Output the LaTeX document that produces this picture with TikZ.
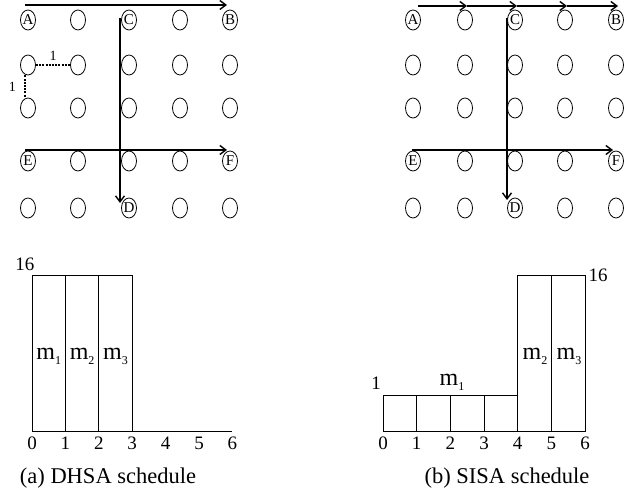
\documentclass[tikz,border=0pt]{standalone}
\usepackage{fontspec}
\setmainfont{Liberation Serif}
\usetikzlibrary{arrows.meta,shapes.geometric}
\newcommand\msub[1]{m\raisebox{-0.45ex}{\fontsize{12}{12}\selectfont#1}}
\begin{document}
\begin{tikzpicture}[x=1pt,y=-1pt,
  cell/.style={draw,ellipse,line width=0.8pt,minimum width=15pt,minimum height=20pt,inner sep=0pt},
  letter/.style={inner sep=0pt,font=\fontsize{15}{15}\selectfont},
  route/.style={line width=2.8pt,-{Straight Barb[length=6pt,width=9pt,line width=1.4pt]}},
  unitlink/.style={line width=2.2pt,dash pattern=on 2pt off 1.2pt},
  small/.style={inner sep=0pt,font=\fontsize{14}{14}\selectfont},
  bar/.style={draw,line width=0.8pt},
  tick/.style={inner sep=0pt,font=\fontsize{19}{19}\selectfont},
  mlab/.style={inner sep=0pt,font=\fontsize{24}{24}\selectfont},
  caption/.style={inner sep=0pt,font=\fontsize{22.5}{25}\selectfont}]
\useasboundingbox (0,0) rectangle (632,502);

% ---- two 5x5 grids of processors ----
\foreach \r/\y in {1/20,2/65,3/108,4/161,5/208}{
  \foreach \c/\x in {1/28,2/78,3/129,4/180,5/230}
    \node[cell] (L\r\c) at (\x,\y) {};
  \foreach \c/\x in {1/413,2/465,3/515,4/565,5/616}
    \node[cell] (R\r\c) at (\x,\y) {};
}

% corner letters, left grid
\node[letter] (A) at (L11) {A};
\node[letter] (C) at (L13) {C};
\node[letter] (B) at (L15) {B};
\node[letter] (E) at (L41) {E};
\node[letter] (F) at (L45) {F};
\node[letter] (D) at (L53) {D};
% corner letters, right grid
\node[letter] (A2) at (R11) {A};
\node[letter] (C2) at (R13) {C};
\node[letter] (B2) at (R15) {B};
\node[letter] (E2) at (R41) {E};
\node[letter] (F2) at (R45) {F};
\node[letter] (D2) at (R53) {D};

% left grid: direct routes
\draw[route] ([xshift=-3pt,yshift=15pt]A.center) -- ([xshift=-3pt,yshift=15pt]B.center);
\draw[route] ([xshift=-9pt,yshift=2pt]C.center) -- ([xshift=-9pt,yshift=5pt]D.center);
\draw[route] ([xshift=-3pt,yshift=11pt]E.center) -- ([xshift=-3pt,yshift=11pt]F.center);
% unit-distance links
\draw[unitlink] (L21.east) -- (L22.west) node[small,midway,above=3pt] {1};
\draw[unitlink] ([xshift=-3pt]L21.south) -- ([xshift=-3pt]L31.north) node[small,midway,left=8pt] {1};

% right grid: hop-by-hop routes
\draw[route] ([xshift=5pt,yshift=14pt]A2.center) -- ([xshift=2pt,yshift=14pt]R12.center);
\draw[route] ([xshift=2pt,yshift=14pt]R12.center) -- ([xshift=2pt,yshift=14pt]C2.center);
\draw[route] ([xshift=2pt,yshift=14pt]C2.center) -- ([xshift=2pt,yshift=14pt]R14.center);
\draw[route] ([xshift=2pt,yshift=14pt]R14.center) -- ([xshift=2pt,yshift=14pt]B2.center);
\draw[route] ([xshift=-8pt,yshift=2pt]C2.center) -- ([xshift=-8pt,yshift=8pt]D2.center);
\draw[route] ([xshift=-1pt,yshift=11pt]E2.center) -- ([xshift=-3pt,yshift=11pt]F2.center);

% ---- (a) DHSA schedule ----
\begin{scope}[shift={(32,431)}]
  \foreach \k in {0,1,2}
    \draw[bar] ({33.4*\k},0) rectangle ({33.4*(\k+1)},-156);
  \draw[bar] (0,0) -- (200.4,0);
  \foreach \k in {0,...,6}
    \node[tick] at ({33.4*\k},12) {\k};
  \node[tick] at (-7,-167) {16};
  \node[mlab] at (16.7,-75) {\msub{1}};
  \node[mlab] at (50.1,-75) {\msub{2}};
  \node[mlab] at (83.5,-75) {\msub{3}};
\end{scope}
\node[caption] at (108,478) {(a) DHSA schedule};

% ---- (b) SISA schedule ----
\begin{scope}[shift={(383,431)}]
  \foreach \k in {0,1,2,3}
    \draw[bar] ({33.67*\k},0) rectangle ({33.67*(\k+1)},-36);
  \foreach \k in {4,5}
    \draw[bar] ({33.67*\k},0) rectangle ({33.67*(\k+1)},-156);
  \foreach \k in {0,...,6}
    \node[tick] at ({33.67*\k},12) {\k};
  \node[tick] at (-7,-48) {1};
  \node[tick] at (215,-156) {16};
  \node[mlab] at (69,-49) {\msub{1}};
  \node[mlab] at (152,-75) {\msub{2}};
  \node[mlab] at (186,-75) {\msub{3}};
\end{scope}
\node[caption] at (507,478) {(b) SISA schedule};
\end{tikzpicture}
\end{document}
